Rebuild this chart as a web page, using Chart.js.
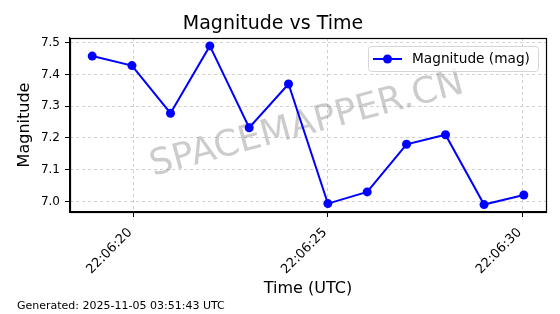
<!DOCTYPE html>
<html>
<head>
<meta charset="utf-8">
<script src="https://cdn.jsdelivr.net/npm/chart.js@4/dist/chart.umd.min.js"></script>
<style>
  html, body { margin: 0; padding: 0; background: #fff; }
  #wrap { width: 560px; height: 314px; }
</style>
</head>
<body>
<div id="wrap"><canvas id="c" width="560" height="314"></canvas></div>
<script>
// seconds after 22:06:00 UTC
const times = [18.95, 19.97, 20.96, 21.97, 22.98, 23.99, 25.0, 26.01, 27.02, 28.02, 29.01, 30.03];
const magnitudes = [7.458, 7.428, 7.278, 7.49, 7.232, 7.37, 6.993, 7.03, 7.18, 7.21, 6.99, 7.02];
const xTicks = [20, 25, 30];
const yTicks = [7.0, 7.1, 7.2, 7.3, 7.4, 7.5];
const seriesLabel = 'Magnitude (mag)';
const titleText = 'Magnitude vs Time';
const footText = 'Generated: 2025-11-05 03:51:43 UTC';
const watermark = 'SPACEMAPPER.CN';

const FONT = "'DejaVu Sans', sans-serif";
const BLUE = '#0000ff';

function fmtTime(s) {
  const ss = String(Math.round(s)).padStart(2, '0');
  return '22:06:' + ss;
}

// watermark under the data, legend box + frame + footnote on top
const extras = {
  id: 'extras',
  beforeDatasetsDraw(chart) {
    const ctx = chart.ctx;
    ctx.save();
    ctx.translate(307, 125);
    ctx.rotate(-15 * Math.PI / 180);
    ctx.font = '36px ' + FONT;
    ctx.fillStyle = 'rgba(128,128,128,0.4)';
    ctx.textAlign = 'center';
    ctx.textBaseline = 'middle';
    ctx.fillText(watermark, 0, 0);
    ctx.restore();
  },
  afterDraw(chart) {
    const ctx = chart.ctx;
    const a = chart.chartArea;
    ctx.save();
    // frame
    ctx.strokeStyle = '#000';
    ctx.lineWidth = 1.2;
    ctx.strokeRect(Math.round(a.left) + 0.5, Math.round(a.top) + 0.5,
      Math.round(a.right - a.left), Math.round(a.bottom - a.top));

    // legend
    const ds = chart.data.datasets[0];
    const bx = 368, by = 46, bw = 170, bh = 25;
    ctx.beginPath();
    ctx.roundRect(bx + 0.5, by + 0.5, bw, bh, 3);
    ctx.fillStyle = 'rgba(255,255,255,0.8)';
    ctx.fill();
    ctx.strokeStyle = '#d6d6d6';
    ctx.lineWidth = 1;
    ctx.stroke();
    const ly = by + bh / 2 + 0.5;
    ctx.strokeStyle = ds.borderColor;
    ctx.lineWidth = 2;
    ctx.beginPath();
    ctx.moveTo(373, ly);
    ctx.lineTo(402, ly);
    ctx.stroke();
    ctx.fillStyle = ds.backgroundColor;
    ctx.beginPath();
    ctx.arc(387.5, ly, 4.5, 0, Math.PI * 2);
    ctx.fill();
    ctx.fillStyle = '#000';
    ctx.font = '13.7px ' + FONT;
    ctx.textAlign = 'left';
    ctx.textBaseline = 'middle';
    ctx.fillText(ds.label, 412, ly);

    // footnote
    ctx.font = '11px ' + FONT;
    ctx.textBaseline = 'alphabetic';
    ctx.fillText(footText, 17, 309);
    ctx.restore();
  }
};

new Chart(document.getElementById('c'), {
  type: 'line',
  data: {
    datasets: [{
      label: seriesLabel,
      data: times.map((t, i) => ({ x: t, y: magnitudes[i] })),
      borderColor: BLUE,
      backgroundColor: BLUE,
      borderWidth: 2,
      pointRadius: 4.5,
      pointHoverRadius: 4.5,
      pointBorderWidth: 0,
      tension: 0,
      fill: false
    }]
  },
  options: {
    responsive: false,
    animation: false,
    layout: { padding: { left: 0, right: 14, top: 0, bottom: 0 } },
    plugins: {
      legend: { display: false },
      tooltip: { enabled: false },
      title: {
        display: true,
        text: titleText,
        color: '#000',
        font: { family: FONT, size: 19, weight: 'normal' },
        padding: { top: 12.6, bottom: 2.6 }
      }
    },
    scales: {
      x: {
        type: 'linear',
        min: 18.38,
        max: 30.6,
        afterBuildTicks(scale) { scale.ticks = xTicks.map(v => ({ value: v })); },
        afterFit(scale) { scale.height = 102; },
        grid: { color: '#cfcfcf', tickColor: '#000', tickLength: 5, lineWidth: 1 },
        border: { display: true, color: '#000', width: 1.2, dash: [3, 3] },
        ticks: {
          color: '#000',
          font: { family: FONT, size: 13 },
          autoSkip: false,
          minRotation: 45,
          maxRotation: 45,
          padding: 8,
          labelOffset: -3,
          callback: v => fmtTime(v)
        },
        title: {
          display: true,
          text: 'Time (UTC)',
          color: '#000',
          font: { family: FONT, size: 16 },
          padding: { top: 0, bottom: 15.4 }
        }
      },
      y: {
        min: 6.9666,
        max: 7.515,
        afterBuildTicks(scale) { scale.ticks = yTicks.map(v => ({ value: v })); },
        afterFit(scale) { scale.width = 70; },
        grid: { color: '#cfcfcf', tickColor: '#000', tickLength: 5, lineWidth: 1 },
        border: { display: true, color: '#000', width: 1.2, dash: [3, 3] },
        ticks: {
          color: '#000',
          font: { family: FONT, size: 12 },
          padding: 5,
          callback: v => v.toFixed(1)
        },
        title: {
          display: true,
          text: 'Magnitude',
          color: '#000',
          font: { family: FONT, size: 16 },
          padding: { top: 15.4, bottom: 0 }
        }
      }
    }
  },
  plugins: [extras]
});
</script>
</body>
</html>
